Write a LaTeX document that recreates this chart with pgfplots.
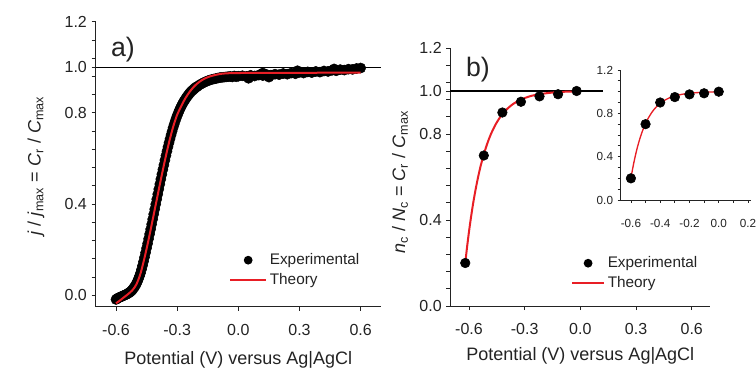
\documentclass[border=0pt]{standalone}
\usepackage{fontspec}
\setmainfont{Liberation Sans}
\usepackage{pgfplots}
\pgfplotsset{compat=1.18}
\definecolor{myred}{RGB}{232,30,37}
\definecolor{axgray}{RGB}{35,35,35}
\pgfplotsset{
  mybase/.style={
    scale only axis,
    axis x line*=bottom, axis y line*=left,
    axis line style={axgray,line width=0.7pt},
    tick style={axgray,line width=0.7pt},
    tick align=outside,
    major tick length=3pt, minor tick length=3pt,
    /pgf/number format/fixed,
    /pgf/number format/fixed zerofill,
    /pgf/number format/precision=1,
    /pgf/number format/assume math mode=true,
    tick label style={font=\fontsize{12}{14}\selectfont, text=axgray},
    xticklabel style={yshift=-6.5pt},
    clip=false,
    legend style={draw=none, fill=none, font=\fontsize{11.5}{14}\selectfont, text=axgray, legend cell align=left, row sep=1pt},
  },
  dotleg/.style={legend image code/.code={\path[draw=none,fill=none] (0pt,0pt) -- (#1,0pt); \fill[black,draw=none] (0.5*#1,0pt) circle (3.3pt);}},
  lineleg/.style={legend image code/.code={\draw[myred,line width=1.5pt] (0pt,0pt) -- (#1,0pt);}},
}
\begin{document}
\begin{tikzpicture}
\clip (0,0) rectangle (567pt,276.75pt);
% ---------------- panel a
\begin{axis}[mybase,
  at={(71.7pt,46.7pt)}, anchor=south west,
  width=214.1pt, height=213.75pt,
  xmin=-0.7, xmax=0.7, ymin=-0.05, ymax=1.2,
  xtick={-0.6,-0.3,0,0.3,0.6},
  ytick={0,0.4,0.8,1.0,1.2},
  minor ytick={0.08,0.16,0.24,0.32,0.48,0.56,0.64,0.72,0.88,0.96,1.04,1.12},
  xlabel={Potential (V) versus Ag|AgCl},
  ylabel={\textit{j} / \textit{j}\textsubscript{max} = \textit{C}\textsubscript{r} / \textit{C}\textsubscript{max}},
  every axis x label/.style={at={(axis description cs:0.5,-0.188)},anchor=center,font=\fontsize{13.5}{16}\selectfont,text=axgray},
  every axis y label/.style={at={(axis description cs:-0.209,0.494)},rotate=90,anchor=center,font=\fontsize{13.5}{16}\selectfont,text=axgray},
  legend style={at={(axis description cs:0.453,0.206)}, anchor=north west},
]
\addplot[black, line width=0.8pt, forget plot] coordinates {(-0.7,1) (0.7,1)};
\addplot[only marks, mark=*, mark size=3.8pt, black, dotleg=27pt] coordinates {
(-0.600,-0.018)(-0.595,-0.015)(-0.590,-0.012)(-0.585,-0.010)(-0.580,-0.008)(-0.575,-0.006)
(-0.570,-0.004)(-0.565,-0.002)(-0.560,0.000)(-0.555,0.002)(-0.550,0.004)(-0.545,0.006)
(-0.540,0.009)(-0.535,0.012)(-0.530,0.015)(-0.525,0.019)(-0.520,0.024)(-0.515,0.030)
(-0.510,0.036)(-0.505,0.043)(-0.500,0.051)(-0.495,0.061)(-0.490,0.072)(-0.485,0.084)
(-0.480,0.097)(-0.475,0.113)(-0.470,0.130)(-0.465,0.148)(-0.460,0.167)(-0.455,0.187)
(-0.450,0.207)(-0.445,0.227)(-0.440,0.248)(-0.435,0.269)(-0.430,0.290)(-0.425,0.312)
(-0.420,0.334)(-0.415,0.356)(-0.410,0.378)(-0.405,0.400)(-0.400,0.422)(-0.395,0.444)
(-0.390,0.466)(-0.385,0.488)(-0.380,0.510)(-0.375,0.531)(-0.370,0.552)(-0.365,0.572)
(-0.360,0.593)(-0.355,0.613)(-0.350,0.632)(-0.345,0.651)(-0.340,0.669)(-0.335,0.686)
(-0.330,0.703)(-0.325,0.719)(-0.320,0.735)(-0.315,0.749)(-0.310,0.763)(-0.305,0.776)
(-0.300,0.788)(-0.295,0.799)(-0.290,0.810)(-0.285,0.820)(-0.280,0.829)(-0.275,0.838)
(-0.270,0.846)(-0.265,0.853)(-0.260,0.860)(-0.255,0.867)(-0.250,0.873)(-0.245,0.879)
(-0.240,0.885)(-0.235,0.890)(-0.230,0.895)(-0.225,0.899)(-0.220,0.903)(-0.215,0.907)
(-0.210,0.911)(-0.205,0.914)(-0.200,0.917)(-0.190,0.923)(-0.180,0.928)(-0.170,0.933)
(-0.160,0.937)(-0.150,0.941)(-0.140,0.944)(-0.130,0.947)(-0.120,0.949)(-0.110,0.951)
(-0.100,0.953)(-0.090,0.955)(-0.080,0.956)(-0.070,0.957)(-0.060,0.958)(-0.050,0.959)
(-0.040,0.960)(-0.030,0.958)(-0.020,0.962)(-0.010,0.959)(0.000,0.961)(0.020,0.963)
(0.040,0.960)(0.050,0.952)(0.060,0.965)(0.080,0.962)(0.100,0.966)(0.120,0.964)(0.120,0.975)
(0.140,0.968)(0.150,0.957)(0.160,0.966)(0.180,0.970)(0.200,0.968)(0.220,0.973)(0.240,0.970)
(0.260,0.975)(0.280,0.972)(0.290,0.985)(0.300,0.978)(0.320,0.975)(0.340,0.980)(0.360,0.977)
(0.380,0.982)(0.400,0.979)(0.420,0.984)(0.440,0.982)(0.460,0.987)(0.470,0.993)(0.480,0.985)
(0.500,0.990)(0.520,0.988)(0.540,0.992)(0.560,0.991)(0.580,0.995)(0.600,0.997)
};
\addlegendentry{Experimental}
\addlegendimage{lineleg=27pt}
\addlegendentry{Theory}
\node[font=\fontsize{20}{24}\selectfont, text=axgray] at (axis description cs:0.096,0.902) {a)};
\end{axis}
% overlay axis for the theory curve of panel a (drawn above the markers)
\begin{axis}[
  scale only axis, hide axis, clip=false,
  at={(71.7pt,46.7pt)}, anchor=south west,
  width=214.1pt, height=213.75pt,
  xmin=-0.7, xmax=0.7, ymin=-0.05, ymax=1.2,
]
\addplot[myred, line width=1.5pt, smooth] coordinates {
(-0.60,-0.035)(-0.58,-0.022)(-0.56,-0.008)(-0.54,0.006)(-0.52,0.022)(-0.50,0.048)
(-0.48,0.095)(-0.46,0.165)(-0.44,0.245)(-0.42,0.332)(-0.40,0.420)(-0.38,0.508)
(-0.36,0.592)(-0.34,0.670)(-0.32,0.738)(-0.30,0.792)(-0.28,0.830)(-0.26,0.864)
(-0.24,0.891)(-0.22,0.913)(-0.20,0.930)(-0.18,0.943)(-0.16,0.953)(-0.14,0.960)
(-0.12,0.965)(-0.10,0.969)(-0.08,0.972)(-0.05,0.974)(0.00,0.975)(0.10,0.976)
(0.30,0.976)(0.60,0.977)
};
\end{axis}
% ---------------- panel b
\begin{axis}[mybase,
  at={(337.8pt,47.25pt)}, anchor=south west,
  width=194.9pt, height=193.5pt,
  xmin=-0.7, xmax=0.7, ymin=0, ymax=1.2,
  xtick={-0.6,-0.3,0,0.3,0.6},
  ytick={0,0.4,0.8,1.0,1.2},
  minor ytick={0.08,0.16,0.24,0.32,0.48,0.56,0.64,0.72,0.88,0.96,1.04,1.12},
  xlabel={Potential (V) versus Ag|AgCl},
  ylabel={\textit{n}\textsubscript{c} / \textit{N}\textsubscript{c} = \textit{C}\textsubscript{r} / \textit{C}\textsubscript{max}},
  every axis x label/.style={at={(axis description cs:0.5,-0.195)},anchor=center,font=\fontsize{13.5}{16}\selectfont,text=axgray},
  every axis y label/.style={at={(axis description cs:-0.194,0.48)},rotate=90,anchor=center,font=\fontsize{13.5}{16}\selectfont,text=axgray},
  legend style={at={(axis description cs:0.448,0.213)}, anchor=north west},
]
\addplot[black, line width=0.8pt, forget plot] coordinates {(-0.7,1) (0.12,1)};
\addplot[only marks, mark=*, mark size=3.6pt, black, dotleg=24pt] coordinates {
(-0.62,0.20)(-0.52,0.70)(-0.42,0.90)(-0.32,0.95)(-0.22,0.975)(-0.12,0.985)(-0.02,1.0)
};
\addlegendentry{Experimental}
\addplot[myred, line width=1.5pt, smooth, lineleg=24pt] coordinates {
(-0.62,0.200)(-0.61,0.276)(-0.60,0.345)(-0.59,0.407)(-0.58,0.464)(-0.57,0.515)
(-0.56,0.561)(-0.55,0.603)(-0.54,0.641)(-0.53,0.675)(-0.52,0.706)(-0.50,0.759)
(-0.48,0.803)(-0.46,0.839)(-0.44,0.868)(-0.42,0.892)(-0.39,0.920)(-0.36,0.941)
(-0.32,0.960)(-0.27,0.976)(-0.22,0.985)(-0.17,0.991)(-0.12,0.995)(-0.07,0.997)(-0.02,0.998)
};
\addlegendentry{Theory}
\node[font=\fontsize{20}{24}\selectfont, text=axgray] at (axis description cs:0.106,0.915) {b)};
\end{axis}
% ---------------- inset
\begin{axis}[mybase,
  at={(465.5pt,126.75pt)}, anchor=south west,
  width=97.7pt, height=97.5pt,
  xmin=-0.67, xmax=0.22, ymin=0, ymax=1.2,
  xtick={-0.6,-0.4,-0.2,0,0.2},
  minor xtick={-0.5,-0.3,-0.1,0.1},
  ytick={0,0.4,0.8,1.2},
  minor ytick={0.1,0.2,0.3,0.5,0.6,0.7,0.9,1.0,1.1},
  major tick length=2.2pt, minor tick length=2.2pt,
  axis line style={axgray,line width=0.6pt},
  tick style={axgray,line width=0.6pt},
  tick label style={font=\fontsize{8.8}{10}\selectfont, text=axgray},
  xticklabel style={yshift=-2pt},
]
\addplot[only marks, mark=*, mark size=3.6pt, black] coordinates {
(-0.60,0.20)(-0.50,0.70)(-0.40,0.90)(-0.30,0.95)(-0.20,0.975)(-0.10,0.985)(0.00,1.0)
};
\addplot[myred, line width=1pt, smooth] coordinates {
(-0.60,0.200)(-0.59,0.276)(-0.58,0.345)(-0.57,0.407)(-0.56,0.464)(-0.55,0.515)
(-0.54,0.561)(-0.53,0.603)(-0.52,0.641)(-0.51,0.675)(-0.50,0.706)(-0.48,0.759)
(-0.46,0.803)(-0.44,0.839)(-0.42,0.868)(-0.40,0.892)(-0.37,0.920)(-0.34,0.941)
(-0.30,0.960)(-0.25,0.976)(-0.20,0.985)(-0.15,0.991)(-0.10,0.995)(-0.05,0.997)(0.00,0.998)
};
\end{axis}
\end{tikzpicture}
\end{document}
